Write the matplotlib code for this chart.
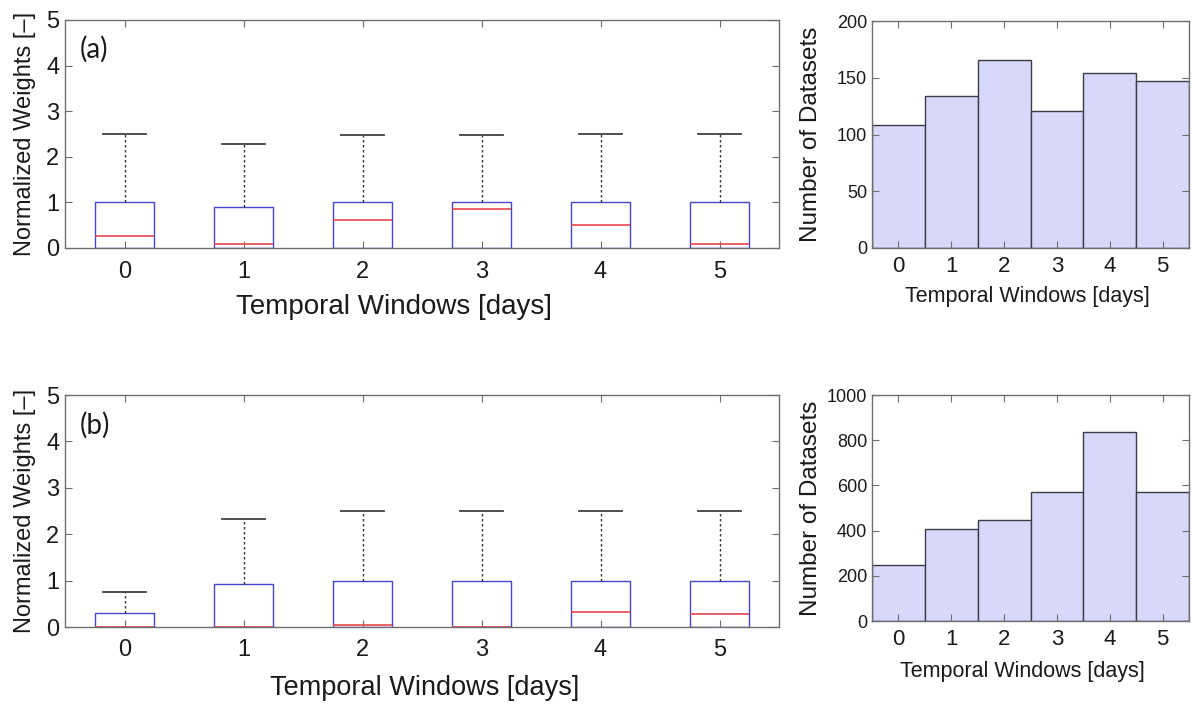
import numpy as np
import matplotlib.pyplot as plt

plt.rcParams['font.family'] = ['Liberation Sans', 'DejaVu Sans']

windows = [0, 1, 2, 3, 4, 5]

# panel (a) box statistics
a_q1 = [0, 0, 0, 0, 0, 0]
a_med = [0.27, 0.095, 0.62, 0.86, 0.50, 0.095]
a_q3 = [1.0, 0.91, 1.0, 1.0, 1.0, 1.0]
a_lo = [0, 0, 0, 0, 0, 0]
a_hi = [2.49, 2.27, 2.48, 2.47, 2.49, 2.49]

# panel (b) box statistics
b_q1 = [0, 0, 0, 0, 0, 0]
b_med = [0.0, 0.01, 0.035, 0.0, 0.33, 0.28]
b_q3 = [0.295, 0.93, 1.0, 1.0, 1.0, 1.0]
b_lo = [0, 0, 0, 0, 0, 0]
b_hi = [0.75, 2.32, 2.50, 2.49, 2.49, 2.49]

# dataset counts
a_counts = [108, 134, 166, 121, 154, 147]
b_counts = [250, 409, 445, 571, 838, 570]

W, H = 1192, 704
fig = plt.figure(figsize=(W / 100, H / 100), dpi=100)

spine_col = '#6e6e6e'
box_col = '#4646c8'
med_col = '#e8474a'
txt_col = '#1a1a1a'


def style(ax, labsize):
    for s in ax.spines.values():
        s.set_color(spine_col)
        s.set_linewidth(1.0)
    ax.tick_params(direction='in', top=True, right=True, length=5,
                   color=spine_col, labelsize=labsize, labelcolor=txt_col)


def box_panel(rect, q1, med, q3, lo, hi, tag):
    ax = fig.add_axes(rect)
    stats = []
    for i in range(len(windows)):
        stats.append(dict(q1=q1[i], med=med[i], q3=q3[i],
                          whislo=lo[i], whishi=hi[i], fliers=[]))
    parts = ax.bxp(stats, positions=windows, widths=0.5, showfliers=False,
                   boxprops=dict(color=box_col, linewidth=1.0),
                   medianprops=dict(color=med_col, linewidth=1.2),
                   whiskerprops=dict(color='#333333', linestyle=(0, (1.8, 1.8)), linewidth=1.0),
                   capprops=dict(color='#404040', linewidth=1.3), capwidths=0.36)
    # lower caps sit on the axis line
    for c in parts['caps'][::2]:
        c.set_visible(False)
    ax.set_xlim(-0.5, 5.5)
    ax.set_ylim(0, 5)
    ax.set_xticks(windows)
    ax.set_xticklabels([str(w) for w in windows])
    ax.set_yticks([0, 1, 2, 3, 4, 5])
    style(ax, 17)
    ax.tick_params(axis='x', pad=9)
    ax.tick_params(axis='y', pad=4)
    ax.set_ylabel('Normalized Weights [\u2013]', fontsize=17, color=txt_col)
    ax.yaxis.set_label_coords(-0.04, 0.5)
    ax.text(0.021, 0.87, tag, transform=ax.transAxes, fontsize=20,
            family=['Lato', 'DejaVu Sans'], va='center', ha='left', color=txt_col)
    return ax


def hist_panel(rect, counts, ymax, ystep):
    ax = fig.add_axes(rect)
    ax.bar(windows, counts, width=1.0, color='#d8d8fa', edgecolor='#3c3c48',
           linewidth=1.0)
    ax.set_xlim(-0.5, 5.5)
    ax.set_ylim(0, ymax)
    ax.set_xticks(windows)
    ax.set_yticks(np.arange(0, ymax + 1, ystep))
    style(ax, 13)
    ax.tick_params(axis='x', labelsize=16, pad=6)
    ax.set_ylabel('Number of Datasets', fontsize=17.5, color=txt_col)
    ax.set_xlabel('Temporal Windows [days]', fontsize=15.5, color=txt_col)
    ax.yaxis.set_label_coords(-0.158, 0.5)
    return ax


ax1 = box_panel([65 / W, 1 - 248 / H, 714 / W, 228 / H],
                a_q1, a_med, a_q3, a_lo, a_hi, '(a)')
ax1.set_xlabel('Temporal Windows [days]', fontsize=20, color=txt_col)
ax1.xaxis.set_label_coords(0.461, -0.2)

ax2 = box_panel([65 / W, 1 - 627 / H, 714 / W, 232 / H],
                b_q1, b_med, b_q3, b_lo, b_hi, '(b)')
ax2.set_xlabel('Temporal Windows [days]', fontsize=19.5, color=txt_col)
ax2.xaxis.set_label_coords(0.504, -0.205)

ax3 = hist_panel([872 / W, 1 - 248 / H, 317 / W, 227 / H], a_counts, 200, 50)
ax3.xaxis.set_label_coords(0.489, -0.168)

ax4 = hist_panel([872 / W, 1 - 621 / H, 317 / W, 226 / H], b_counts, 1000, 200)
ax4.xaxis.set_label_coords(0.473, -0.178)

fig.savefig('out.png', dpi=100)
